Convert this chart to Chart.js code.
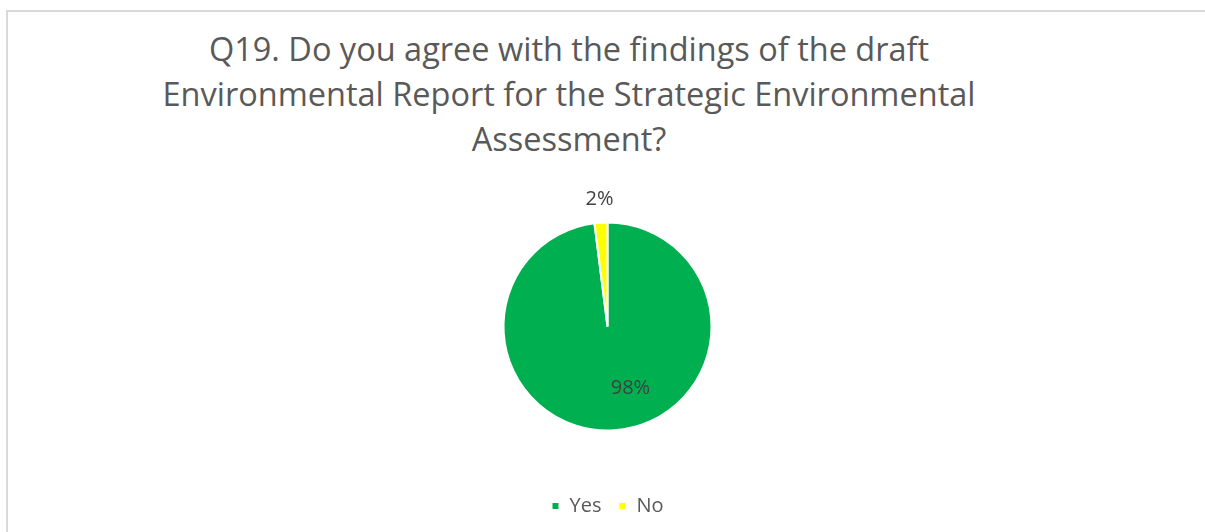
<!DOCTYPE html>
<html>
<head>
<meta charset="utf-8">
<script src="https://cdn.jsdelivr.net/npm/chart.js@4.4.1/dist/chart.umd.min.js"></script>
<style>
  html, body { margin: 0; padding: 0; background: #fff; overflow: hidden; }
  #wrap { position: relative; width: 1205px; height: 532px; }
  #frame { position: absolute; left: 6px; top: 10px; width: 1400px; height: 700px; border: 2px solid #d9d9d9; box-sizing: border-box; }
  #title { position: absolute; left: 0; top: 26px; width: 1138px; text-align: center; font-family: "Open Sans", sans-serif; font-size: 32.5px; line-height: 45px; color: #595959; }
  #c { position: absolute; left: 0; top: 0; }
</style>
</head>
<body>
<div id="wrap">
  <div id="frame"></div>
  <div id="title">Q19. Do you agree with the findings of the draft<br>Environmental Report for the Strategic Environmental<br>Assessment?</div>
  <canvas id="c" width="1205" height="532"></canvas>
</div>
<script>
const categories = ["Yes", "No"];
const values = [98, 2];
const labelTexts = ["98%", "2%"];
const colors = ["#00B050", "#FFFF00"];

const labelPlugin = {
  id: 'sliceLabels',
  afterDatasetsDraw(chart) {
    const ctx = chart.ctx;
    const meta = chart.getDatasetMeta(0);
    ctx.save();
    ctx.font = '20px "Open Sans", sans-serif';
    ctx.fillStyle = '#404040';
    ctx.textAlign = 'center';
    ctx.textBaseline = 'middle';
    meta.data.forEach((arc, i) => {
      const p = arc.getProps(['x', 'y', 'startAngle', 'endAngle', 'outerRadius'], true);
      const mid = (p.startAngle + p.endAngle) / 2;
      let r, dx = 0;
      if (i === 0) { r = p.outerRadius * 0.6; dx = 19; }
      else { r = p.outerRadius + 23; }
      ctx.fillText(labelTexts[i], p.x + Math.cos(mid) * r + dx, p.y + Math.sin(mid) * r);
    });
    ctx.restore();
  }
};

new Chart(document.getElementById('c'), {
  type: 'pie',
  data: {
    labels: categories,
    datasets: [{
      data: values,
      backgroundColor: colors,
      borderColor: '#ffffff',
      borderWidth: 2,
      radius: 104
    }]
  },
  options: {
    responsive: false,
    animation: false,
    layout: { padding: { top: 174, bottom: 6, left: 10, right: 0 } },
    plugins: {
      tooltip: { enabled: false },
      title: { display: false },
      legend: {
        position: 'bottom',
        labels: {
          boxWidth: 8,
          boxHeight: 8,
          padding: 17,
          color: '#595959',
          font: { family: '"Open Sans", sans-serif', size: 20 }
        }
      }
    }
  },
  plugins: [labelPlugin]
});
</script>
</body>
</html>
